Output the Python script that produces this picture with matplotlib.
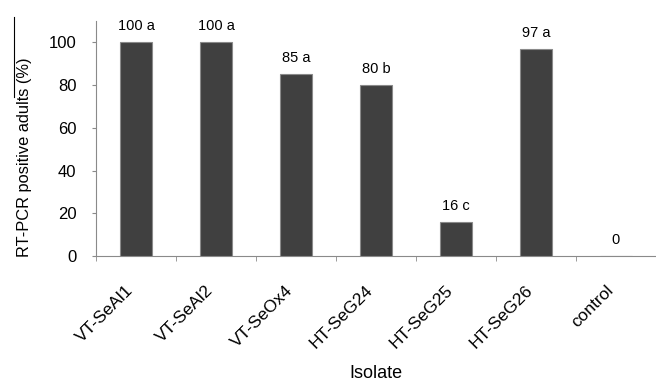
import matplotlib
matplotlib.use('Agg')
import matplotlib.pyplot as plt
from matplotlib.lines import Line2D
import numpy as np

isolates = ["VT-SeAl1", "VT-SeAl2", "VT-SeOx4", "HT-SeG24", "HT-SeG25", "HT-SeG26", "control"]
positive = [100, 100, 85, 80, 16, 97, 0]
letters = ["a", "a", "a", "b", "c", "a", ""]

plt.rcParams['font.family'] = ['Liberation Sans', 'DejaVu Sans']

fig = plt.figure(figsize=(6.56, 3.88), dpi=100)
ax = fig.add_axes([96 / 656, 1 - 256 / 388, 560 / 656, 235 / 388])

x = np.arange(len(isolates))
ax.bar(x, positive, width=0.4, color="#404040", edgecolor="#8a8a8a", linewidth=0.8, zorder=3)

for xi, v, l in zip(x, positive, letters):
    label = f"{v} {l}".strip()
    ax.annotate(label, (xi, v), xytext=(0, 6.5), textcoords="offset points",
                ha="center", va="bottom", fontsize=10.5)

ax.set_xlim(-0.5, 6.5)
ax.set_ylim(0, 110)
ax.set_yticks(range(0, 101, 20))
ax.set_xticks(x)
ax.set_xticklabels(isolates, rotation=45, ha="right", fontsize=12.5)
ax.set_xticks(np.arange(-0.5, 6.0, 1.0), minor=True)
ax.tick_params(axis="x", which="major", length=0, pad=19)
ax.tick_params(axis="x", which="minor", length=3.5, direction="out", color="#8a8a8a")
ax.tick_params(axis="y", length=3, color="#8a8a8a", labelsize=12, pad=11)

for s in ("top", "right"):
    ax.spines[s].set_visible(False)
for s in ("left", "bottom"):
    ax.spines[s].set_color("#8a8a8a")
    ax.spines[s].set_linewidth(0.8)

ax.set_ylabel("RT-PCR positive adults (%)", fontsize=11.8)
ax.yaxis.set_label_coords(-0.115, 0.42)
ax.set_xlabel("Isolate", fontsize=13)
ax.xaxis.set_label_coords(0.5, -0.465)

# thin scan line left of the y label
fig.add_artist(Line2D([14 / 656, 14 / 656], [1 - 17 / 388, 1 - 97 / 388], color="black", linewidth=0.8))

plt.savefig("out.png", dpi=100)
plt.close()
